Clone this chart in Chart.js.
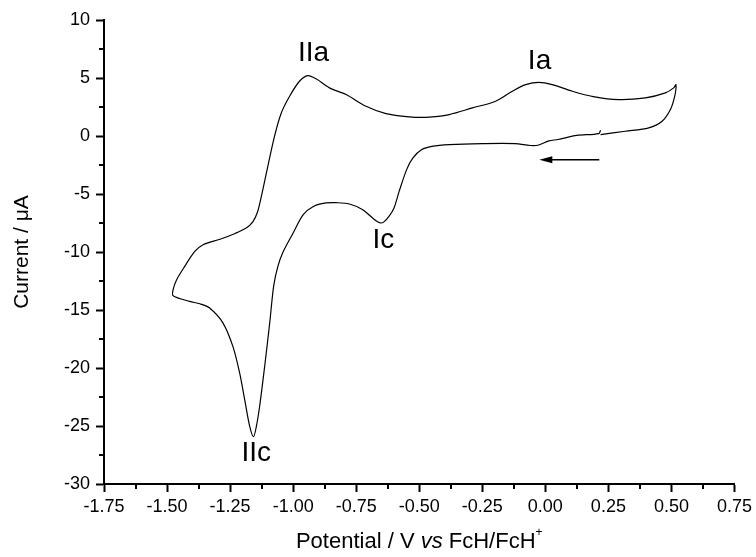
<!DOCTYPE html>
<html>
<head>
<meta charset="utf-8">
<script src="https://cdn.jsdelivr.net/npm/chart.js@4/dist/chart.umd.min.js"></script>
<style>
  html, body { margin: 0; padding: 0; background: #fff; }
  #wrap { width: 756px; height: 557px; }
</style>
</head>
<body>
<div id="wrap"><canvas id="cvChart"></canvas></div>
<script>
// potential (V vs FcH/FcH+) and current (uA), in scan order
var potential = [
  0.219, 0.212, 0.125, 0.05, 0.014, -0.03, -0.06, -0.12, -0.25, -0.38, -0.45, -0.49,
  -0.525, -0.55, -0.58, -0.60, -0.62, -0.64, -0.652, -0.665, -0.685, -0.724, -0.777,
  -0.83, -0.87, -0.92, -0.96, -1.00, -1.04, -1.06, -1.077, -1.093, -1.113, -1.133, -1.146,
  -1.157, -1.172, -1.192, -1.212, -1.239, -1.278, -1.331, -1.37, -1.41, -1.476,
  -1.476, -1.462, -1.43, -1.39, -1.357, -1.29, -1.23, -1.186, -1.16, -1.142, -1.125, -1.106,
  -1.074, -1.047, -1.014, -0.975, -0.942, -0.909, -0.856, -0.79, -0.711, -0.632, -0.54,
  -0.474, -0.381, -0.289, -0.197, -0.131, -0.078, -0.025, 0.027, 0.107, 0.19, 0.291,
  0.397, 0.476, 0.509, 0.518,
  0.513, 0.496, 0.463, 0.41, 0.317, 0.219
];
var current = [
  0.49, 0.21, 0.05, -0.3, -0.42, -0.8, -0.82, -0.66, -0.66, -0.74, -0.89, -1.17,
  -1.89, -2.9, -4.8, -6.2, -6.93, -7.4, -7.5, -7.4, -7.07, -6.35, -5.86,
  -5.75, -5.77, -6.07, -6.78, -8.36, -10.0, -11.2, -12.9, -16.13, -19.87, -23.32, -25.05,
  -25.91, -25.05, -22.74, -20.44, -18.14, -16.13, -14.83, -14.46, -14.26, -13.77,
  -13.25, -12.39, -11.24, -9.95, -9.37, -8.9, -8.4, -7.93, -7.4, -6.6, -5.1, -3.18,
  -0.03, 1.99, 3.43, 4.72, 5.21, 4.93, 4.15, 3.57, 2.56, 1.93, 1.65,
  1.61, 1.85, 2.42, 3.0, 3.86, 4.43, 4.63, 4.43, 3.86, 3.4, 3.14,
  3.29, 3.72, 4.15, 4.43,
  3.43, 2.28, 1.27, 0.7, 0.41, 0.12
];

// peak labels
var peakNames = ['IIa', 'Ia', 'Ic', 'IIc'];
var peakX = [-0.919, -0.023, -0.642, -1.146];
var peakY = [7.11, 6.45, -9.03, -27.34];

// scan direction arrow
var arrowX = [0.214, -0.024];
var arrowY = -2.04;

var FONT = "'Liberation Sans', Arial, sans-serif";

var points = potential.map(function(p, i) { return { x: p, y: current[i] }; });

// minor ticks, peak labels, arrow and x title
var extras = {
  id: 'extras',
  afterDraw: function(chart) {
    var ctx = chart.ctx;
    var xs = chart.scales.x, ys = chart.scales.y;
    var area = chart.chartArea;
    ctx.save();
    ctx.strokeStyle = '#000';
    ctx.lineWidth = 2;
    ctx.beginPath();
    for (var v = -1.625; v < 0.75; v += 0.25) {
      var px = Math.round(xs.getPixelForValue(v));
      ctx.moveTo(px, area.bottom);
      ctx.lineTo(px, area.bottom + 5);
    }
    for (var w = -27.5; w < 10; w += 5) {
      var py = Math.round(ys.getPixelForValue(w));
      ctx.moveTo(area.left - 5, py);
      ctx.lineTo(area.left, py);
    }
    ctx.stroke();

    // peak labels
    ctx.fillStyle = '#000';
    ctx.font = '28px ' + FONT;
    ctx.textAlign = 'center';
    ctx.textBaseline = 'middle';
    peakNames.forEach(function(name, i) {
      ctx.fillText(name, xs.getPixelForValue(peakX[i]), ys.getPixelForValue(peakY[i]));
    });

    // arrow
    var ax0 = xs.getPixelForValue(arrowX[0]);
    var ax1 = xs.getPixelForValue(arrowX[1]);
    var ay = ys.getPixelForValue(arrowY);
    ctx.lineWidth = 1.5;
    ctx.beginPath();
    ctx.moveTo(ax0, ay);
    ctx.lineTo(ax1 + 10, ay);
    ctx.stroke();
    ctx.beginPath();
    ctx.moveTo(ax1, ay);
    ctx.lineTo(ax1 + 13, ay - 3.5);
    ctx.lineTo(ax1 + 13, ay + 3.5);
    ctx.closePath();
    ctx.fill();

    // x axis title with italic "vs" and superscript +
    var parts = [
      { t: 'Potential / V ', f: '22px ' + FONT, dy: 0 },
      { t: 'vs', f: 'italic 22px ' + FONT, dy: 0 },
      { t: ' FcH/FcH', f: '22px ' + FONT, dy: 0 },
      { t: '+', f: '12px ' + FONT, dy: -9 }
    ];
    var total = 0;
    parts.forEach(function(p) { ctx.font = p.f; p.w = ctx.measureText(p.t).width; total += p.w; });
    var tx = (area.left + area.right) / 2 - total / 2;
    var ty = 542;
    ctx.textAlign = 'left';
    ctx.textBaseline = 'middle';
    parts.forEach(function(p) {
      ctx.font = p.f;
      ctx.fillText(p.t, tx, ty + p.dy);
      tx += p.w;
    });
    ctx.restore();
  }
};

var ctxcv = document.getElementById('cvChart').getContext('2d');
var cvChart = new Chart(ctxcv, {
  type: 'scatter',
  data: {
    datasets: [{
      label: 'CV',
      data: points,
      showLine: true,
      borderColor: '#000',
      borderWidth: 1.2,
      pointRadius: 0,
      tension: 0.3,
      fill: false
    }]
  },
  options: {
    responsive: true,
    maintainAspectRatio: false,
    animation: false,
    layout: { padding: { left: 10, right: 3, top: 20, bottom: 0 } },
    plugins: {
      legend: { display: false },
      tooltip: { enabled: false }
    },
    scales: {
      x: {
        type: 'linear',
        min: -1.75,
        max: 0.75,
        border: { display: true, color: '#000', width: 2 },
        grid: { drawOnChartArea: false, color: '#000', tickLength: 8, tickWidth: 2 },
        ticks: {
          stepSize: 0.25,
          color: '#000',
          padding: 4,
          maxRotation: 0,
          font: { size: 18, family: FONT },
          callback: function(v) { return v.toFixed(2); }
        },
        afterFit: function(scale) { scale.height = 73; }
      },
      y: {
        type: 'linear',
        min: -30,
        max: 10,
        border: { display: true, color: '#000', width: 2 },
        grid: { drawOnChartArea: false, color: '#000', tickLength: 8, tickWidth: 2 },
        ticks: {
          stepSize: 5,
          color: '#000',
          padding: 6,
          font: { size: 18, family: FONT }
        },
        title: {
          display: true,
          text: 'Current / μA',
          color: '#000',
          padding: { top: 0, bottom: 0 },
          font: { size: 21, family: FONT }
        },
        afterFit: function(scale) { scale.width = 94; }
      }
    }
  },
  plugins: [extras]
});
</script>
</body>
</html>
